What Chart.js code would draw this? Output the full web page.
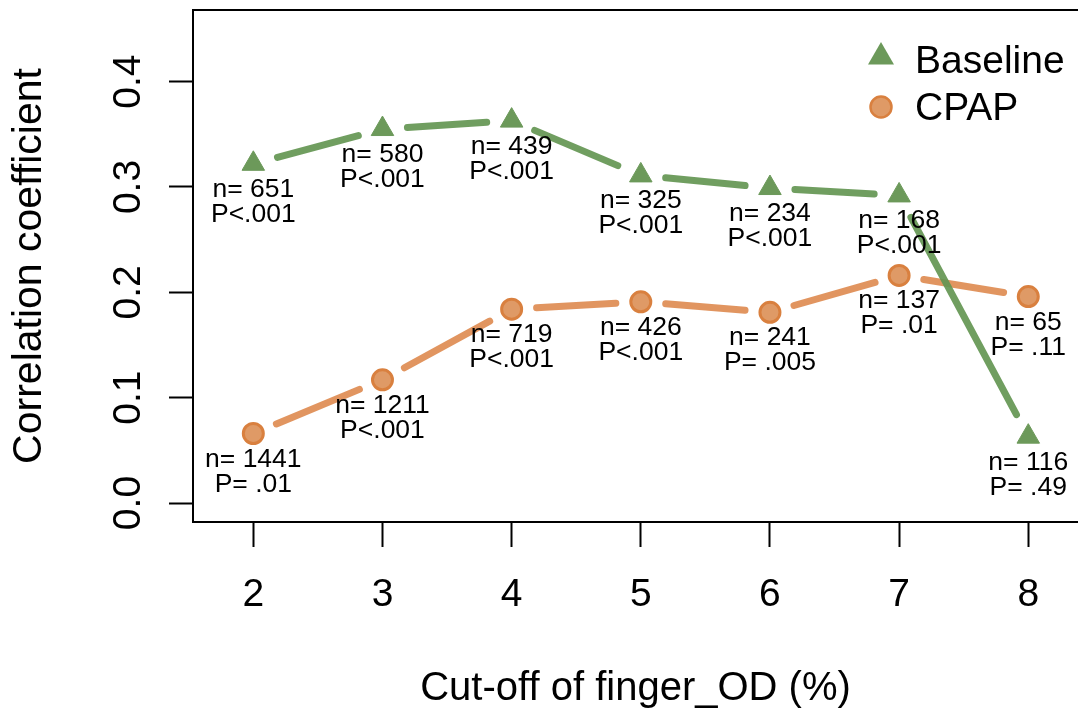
<!DOCTYPE html>
<html>
<head>
<meta charset="utf-8">
<script src="https://cdn.jsdelivr.net/npm/chart.js@4"></script>
<style>
html, body { margin: 0; padding: 0; background: #fff; overflow: hidden; }
canvas { display: block; }
</style>
</head>
<body>
<canvas id="chart" width="1078" height="713"></canvas>
<script>
// values
const cutoffs = [2, 3, 4, 5, 6, 7, 8];
const baselineR = [0.322, 0.355, 0.363, 0.311, 0.299, 0.292, 0.063];
const cpapR = [0.066, 0.117, 0.184, 0.191, 0.181, 0.216, 0.196];
const baselineN = [651, 580, 439, 325, 234, 168, 116];
const baselineP = ['P<.001', 'P<.001', 'P<.001', 'P<.001', 'P<.001', 'P<.001', 'P= .49'];
const cpapN = [1441, 1211, 719, 426, 241, 137, 65];
const cpapP = ['P= .01', 'P<.001', 'P<.001', 'P<.001', 'P= .005', 'P= .01', 'P= .11'];
const yTicks = [0, 0.1, 0.2, 0.3, 0.4];
const yTickLabels = ['0.0', '0.1', '0.2', '0.3', '0.4'];

const FONT = "'Liberation Sans', Arial, Helvetica, sans-serif";
const GREEN = '#6c995a';
const GREEN_LINE = 'rgba(100,150,82,0.92)';
const ORANGE_FILL = '#df9a66';
const ORANGE_EDGE = '#d9803f';
const ORANGE_LINE = 'rgba(222,140,82,0.92)';
const GAP = 25; // R type="b" leaves a gap round each point

Chart.defaults.font.family = FONT;
Chart.defaults.color = '#000';

// lines between points, stopped short of each marker
const gapLines = {
  id: 'gapLines',
  beforeDatasetsDraw(chart) {
    const ctx = chart.ctx;
    for (let d = chart.data.datasets.length - 1; d >= 0; d--) {
      const ds = chart.data.datasets[d];
      const pts = chart.getDatasetMeta(d).data;
      ctx.save();
      ctx.strokeStyle = ds.lineColor;
      ctx.lineWidth = 7;
      ctx.lineCap = 'round';
      for (let i = 0; i < pts.length - 1; i++) {
        const a = pts[i], b = pts[i + 1];
        const dx = b.x - a.x, dy = b.y - a.y;
        const len = Math.hypot(dx, dy);
        if (len <= 2 * GAP) continue;
        const ux = dx / len, uy = dy / len;
        ctx.beginPath();
        ctx.moveTo(a.x + ux * GAP, a.y + uy * GAP);
        ctx.lineTo(b.x - ux * GAP, b.y - uy * GAP);
        ctx.stroke();
      }
      ctx.restore();
    }
  }
};

// n / P text under every point
const pointText = {
  id: 'pointText',
  afterDatasetsDraw(chart) {
    const ctx = chart.ctx;
    ctx.save();
    ctx.font = '26.5px ' + FONT;
    ctx.fillStyle = '#000';
    ctx.textAlign = 'center';
    ctx.textBaseline = 'alphabetic';
    chart.data.datasets.forEach((ds, d) => {
      chart.getDatasetMeta(d).data.forEach((p, i) => {
        ctx.fillText('n= ' + ds.nValues[i], p.x, p.y + 33);
        ctx.fillText(ds.pValues[i], p.x, p.y + 58);
      });
    });
    ctx.restore();
  }
};

// rotated y tick labels, top border, legend
const frame = {
  id: 'frame',
  afterDraw(chart) {
    const ctx = chart.ctx;
    const area = chart.chartArea;
    const y = chart.scales.y;
    ctx.save();
    ctx.strokeStyle = '#000';
    ctx.lineWidth = 2;
    ctx.beginPath();
    ctx.moveTo(area.left - 1, area.top);
    ctx.lineTo(area.right, area.top);
    ctx.stroke();

    ctx.fillStyle = '#000';
    ctx.font = '39px ' + FONT;
    ctx.textAlign = 'center';
    ctx.textBaseline = 'alphabetic';
    yTicks.forEach((v, i) => {
      ctx.save();
      ctx.translate(140, y.getPixelForValue(v));
      ctx.rotate(-Math.PI / 2);
      ctx.fillText(yTickLabels[i], 0, 0);
      ctx.restore();
    });

    // legend
    const lx = 881, tx = 915;
    const ds = chart.data.datasets;
    const r = 15, cy0 = 57;
    ctx.fillStyle = ds[0].pointBackgroundColor;
    ctx.beginPath();
    ctx.moveTo(lx, cy0 - r);
    ctx.lineTo(lx + r * Math.sin(2 * Math.PI / 3), cy0 + r / 2);
    ctx.lineTo(lx - r * Math.sin(2 * Math.PI / 3), cy0 + r / 2);
    ctx.closePath();
    ctx.fill();
    const cy1 = 107;
    ctx.beginPath();
    ctx.arc(lx, cy1, 10.5, 0, Math.PI * 2);
    ctx.fillStyle = ds[1].pointBackgroundColor;
    ctx.fill();
    ctx.lineWidth = 2.5;
    ctx.strokeStyle = ds[1].pointBorderColor;
    ctx.stroke();

    ctx.fillStyle = '#000';
    ctx.textAlign = 'left';
    ctx.fillText(ds[0].label, tx, 73);
    ctx.fillText(ds[1].label, tx, 120);
    ctx.restore();
  }
};

new Chart(document.getElementById('chart'), {
  type: 'line',
  data: {
    datasets: [
      {
        label: 'Baseline',
        data: cutoffs.map((c, i) => ({ x: c, y: baselineR[i] })),
        nValues: baselineN,
        pValues: baselineP,
        lineColor: GREEN_LINE,
        showLine: false,
        pointStyle: 'triangle',
        pointRadius: 13,
        pointBorderWidth: 1,
        pointBackgroundColor: GREEN,
        pointBorderColor: GREEN
      },
      {
        label: 'CPAP',
        data: cutoffs.map((c, i) => ({ x: c, y: cpapR[i] })),
        nValues: cpapN,
        pValues: cpapP,
        lineColor: ORANGE_LINE,
        showLine: false,
        pointStyle: 'circle',
        pointRadius: 10,
        pointBorderWidth: 3,
        pointBackgroundColor: ORANGE_FILL,
        pointBorderColor: ORANGE_EDGE
      }
    ]
  },
  options: {
    responsive: false,
    animation: false,
    devicePixelRatio: 1,
    events: [],
    layout: { autoPadding: false, padding: { top: 10, left: 0, right: 0, bottom: 0 } },
    plugins: {
      legend: { display: false },
      tooltip: { enabled: false }
    },
    scales: {
      x: {
        type: 'linear',
        min: 1.533,
        max: 8.385,
        afterBuildTicks: s => { s.ticks = cutoffs.map(v => ({ value: v })); },
        afterFit: s => { s.height = 191; s.paddingLeft = 0; s.paddingRight = 0; },
        grid: {
          drawOnChartArea: false,
          drawTicks: true,
          tickLength: 25,
          tickWidth: 2,
          tickColor: '#000'
        },
        border: { display: true, color: '#000', width: 2 },
        ticks: {
          font: { size: 39 },
          color: '#000',
          padding: 25,
          maxRotation: 0,
          autoSkip: false,
          callback: v => String(v)
        },
        title: {
          display: true,
          text: 'Cut-off of finger_OD (%)',
          font: { size: 40 },
          color: '#000',
          padding: { top: 0, bottom: 0 }
        }
      },
      y: {
        type: 'linear',
        min: -0.018,
        max: 0.468,
        afterBuildTicks: s => { s.ticks = yTicks.map(v => ({ value: v })); },
        afterFit: s => { s.width = 193; s.paddingTop = 0; s.paddingBottom = 0; },
        grid: {
          drawOnChartArea: false,
          drawTicks: true,
          tickLength: 24,
          tickWidth: 2,
          tickColor: '#000'
        },
        border: { display: true, color: '#000', width: 2 },
        ticks: { display: false },
        title: {
          display: true,
          text: 'Correlation coefficient',
          font: { size: 41 },
          color: '#000',
          padding: { top: 5, bottom: 0 }
        }
      }
    }
  },
  plugins: [gapLines, pointText, frame]
});
</script>
</body>
</html>
